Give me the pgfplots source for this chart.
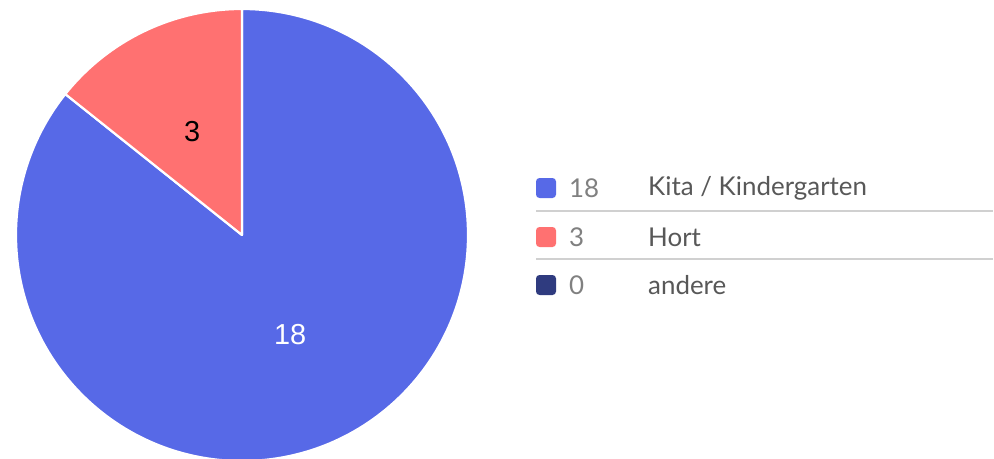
\documentclass[border=0pt]{standalone}
\usepackage{pgfplots}
\pgfplotsset{compat=1.18}
\usepackage{pgfplotstable}
\usetikzlibrary{calc}
\usepackage{fontspec}
\setmainfont{Liberation Sans}
\newfontfamily\legfont{Lato}
\definecolor{cBlue}{HTML}{5769E7}
\definecolor{cRed}{HTML}{FF7171}
\definecolor{cNavy}{HTML}{2F3B7F}
\definecolor{cNum}{HTML}{808080}
\definecolor{cLab}{HTML}{585858}
\definecolor{cRule}{HTML}{D0D0D0}
\pgfplotstableread{
value label
18 {Kita / Kindergarten}
3 Hort
0 andere
}\piedata
\tikzset{legnum/.style={anchor=west, text=cNum, font=\legfont\fontsize{26}{28}\selectfont, inner sep=0pt},
         leglab/.style={anchor=west, text=cLab, font=\legfont\fontsize{26}{28}\selectfont, inner sep=0pt}}
\begin{document}
\begin{tikzpicture}
\pgfplotstablegetelem{0}{value}\of\piedata\let\va\pgfplotsretval
\pgfplotstablegetelem{1}{value}\of\piedata\let\vb\pgfplotsretval
\pgfplotstablegetelem{2}{value}\of\piedata\let\vcc\pgfplotsretval
\pgfmathsetmacro{\tot}{\va+\vb+\vcc}
\pgfmathsetmacro{\angA}{360*\va/\tot}
\pgfmathsetmacro{\angB}{360*\vb/\tot}
\pgfmathsetmacro{\midA}{90-\angA/2}
\pgfmathsetmacro{\midB}{90+\angB/2}
\begin{axis}[
  scale only axis, width=994bp, height=459bp,
  xmin=0, xmax=994, ymin=0, ymax=459, y dir=reverse,
  hide axis, clip mode=global,
]
\addplot[draw=none] coordinates {(0,0) (994,459)};
% slices (radius in bp, 1 unit = 1bp)
\fill[cBlue, draw=white, line width=2.2bp, line join=round]
  (axis cs:242,235) -- ++(90:226bp) arc[start angle=90, delta angle=-\angA, radius=226bp] -- cycle;
\fill[cRed, draw=white, line width=2.2bp, line join=round]
  (axis cs:242,235) -- ++(90:226bp) arc[start angle=90, delta angle=\angB, radius=226bp] -- cycle;
% slice labels
\node[text=white, font=\fontsize{29}{31}\selectfont] at ($(axis cs:242,235)+(\midA:111bp)$) {\va};
\node[text=black, font=\fontsize{29}{31}\selectfont] at ($(axis cs:242,235)+(\midB:115bp)$) {\vb};
% legend
\draw[cRule, line width=1.3bp] (axis cs:536,211) -- (axis cs:993,211);
\draw[cRule, line width=1.3bp] (axis cs:536,259) -- (axis cs:993,259);
\fill[cBlue, rounded corners=3.5bp] (axis cs:536,178) rectangle (axis cs:556,198);
\fill[cRed, rounded corners=3.5bp] (axis cs:536,227) rectangle (axis cs:556,247);
\fill[cNavy, rounded corners=3.5bp] (axis cs:536,275) rectangle (axis cs:556,295);
\node[legnum] at (axis cs:569,188) {\va};
\node[legnum] at (axis cs:569,237) {\vb};
\node[legnum] at (axis cs:569,285) {\vcc};
\node[leglab] at (axis cs:648,188) {Kita / Kindergarten};
\node[leglab] at (axis cs:648,237) {Hort};
\node[leglab] at (axis cs:648,285) {andere};
\end{axis}
\pgfresetboundingbox
\useasboundingbox (current axis.south west) rectangle (current axis.north east);
\end{tikzpicture}
\end{document}
